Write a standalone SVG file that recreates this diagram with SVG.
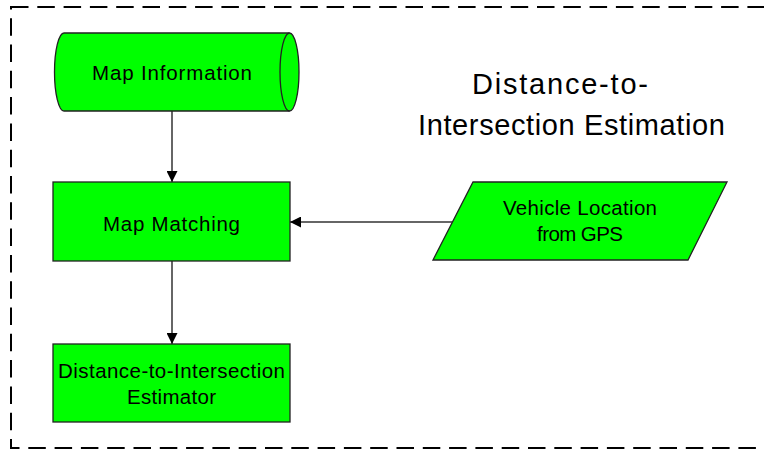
<svg xmlns="http://www.w3.org/2000/svg" width="764" height="451" viewBox="0 0 764 451">
<defs>
<marker id="arr" viewBox="0 0 10 10" refX="10" refY="5" markerWidth="11" markerHeight="11" markerUnits="userSpaceOnUse" orient="auto">
<path d="M0,0 L10,5 L0,10 Z" fill="#000"/>
</marker>
<style>
.node{fill:#00ff00;stroke:#222;stroke-width:1.3}
.lbl{font-family:"Liberation Sans",Arial,sans-serif;font-size:20.5px;fill:#000;text-anchor:start}
.title{font-family:"Liberation Sans",Arial,sans-serif;font-size:29px;fill:#000;text-anchor:start}
.conn{stroke:#333;stroke-width:1.5;fill:none;marker-end:url(#arr)}
</style>
</defs>
<rect width="764" height="451" fill="#fff"/>
<rect id="frame" x="11" y="7" width="770" height="441" fill="none" stroke="#000" stroke-width="2" stroke-dasharray="17.5 8.8"/>
<g id="title">
<text class="title" x="472" y="94" textLength="176">Distance-to-</text>
<text class="title" x="418" y="135" textLength="307">Intersection Estimation</text>
</g>
<g id="connectors">
<line class="conn" x1="172" y1="111" x2="172" y2="182"/>
<line class="conn" x1="172" y1="261" x2="172" y2="344"/>
<line class="conn" x1="452.5" y1="222" x2="290" y2="222"/>
</g>
<g id="map-information">
<path class="node" d="M64,33 L289.5,33 A9.5,39 0 0 1 289.5,111 L64,111 A9.5,39 0 0 1 64,33 Z"/>
<path d="M289.5,33 A9.5,39 0 0 0 289.5,111" fill="none" stroke="#222" stroke-width="1.3"/>
<text class="lbl" x="92" y="80" textLength="160">Map Information</text>
</g>
<g id="map-matching">
<rect class="node" x="53" y="182" width="237" height="79"/>
<text class="lbl" x="103" y="231" textLength="137">Map Matching</text>
</g>
<g id="vehicle-location">
<polygon class="node" points="473,182 727,182 688,260 433,260"/>
<text class="lbl" x="503" y="215" textLength="154">Vehicle Location</text>
<text class="lbl" x="537" y="241" textLength="86">from GPS</text>
</g>
<g id="estimator">
<rect class="node" x="53" y="344" width="237" height="78"/>
<text class="lbl" x="58" y="378" textLength="227">Distance-to-Intersection</text>
<text class="lbl" x="127" y="404" textLength="89">Estimator</text>
</g>
</svg>
